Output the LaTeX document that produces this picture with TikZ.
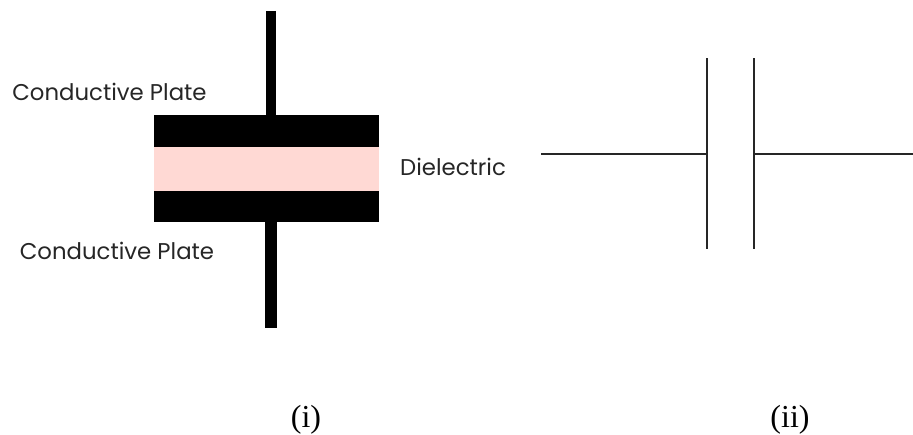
\documentclass[tikz,border=0pt]{standalone}
\usepackage{fontspec}
\setmainfont{Liberation Serif}
\newfontfamily\labelfont{Poppins}
\usepackage{xcolor}
\definecolor{dielectriccolor}{HTML}{FFD9D4}

\tikzset{
	platelabel/.style = {font=\labelfont\fontsize{22.8}{26}\selectfont, text=black!85, inner sep=0pt},
	caption/.style = {font=\fontsize{32}{36}\selectfont, inner sep=0pt},
	wire/.style = {line width=2pt, black!85},
}

\begin{document}
\begin{tikzpicture}[x=1pt, y=-1pt]
	\useasboundingbox (0,0) rectangle (913,435);
	
	% sandwich
	\node [fill=black, minimum width=225.5pt, minimum height=32pt, inner sep=0pt] (topplate) at (266.25,131) {};
	\node [fill=dielectriccolor, minimum width=225.5pt, minimum height=44pt, inner sep=0pt] (dielectric) at (266.25,169) {};
	\node [fill=black, minimum width=225.5pt, minimum height=31pt, inner sep=0pt] (bottomplate) at (266.25,206.5) {};
	
	\coordinate (topend) at (270.7,11);
	\coordinate (bottomend) at (271.1,328);
	\draw [line width=10pt] (topend) -- (topend |- topplate.north);
	\draw [line width=11.7pt] (bottomend) -- (bottomend |- bottomplate.south);
	
	\node [platelabel] (toplabel) at (109.5,92) {Conductive Plate};
	\node [platelabel] (bottomlabel) at (117,251) {Conductive Plate};
	\node [platelabel] (dielectriclabel) at (453,167) {Dielectric};
	
	% symbol
	\coordinate (leftplatetop) at (706.8,58.5);
	\coordinate (leftplatebottom) at (706.8,249);
	\coordinate (rightplatetop) at (754.3,58.5);
	\coordinate (rightplatebottom) at (754.3,249);
	\coordinate (leftend) at (541,154.5);
	\coordinate (rightend) at (913,154.5);
	
	\draw [wire] (leftplatetop) -- (leftplatebottom);
	\draw [wire] (rightplatetop) -- (rightplatebottom);
	\draw [wire] (leftend) -- (leftend -| leftplatetop);
	\draw [wire] (rightend) -- (rightend -| rightplatetop);
	
	\node [caption] (capi) at (306,420) {(i)};
	\node [caption] (capii) at (790,420) {(ii)};
\end{tikzpicture}
\end{document}
